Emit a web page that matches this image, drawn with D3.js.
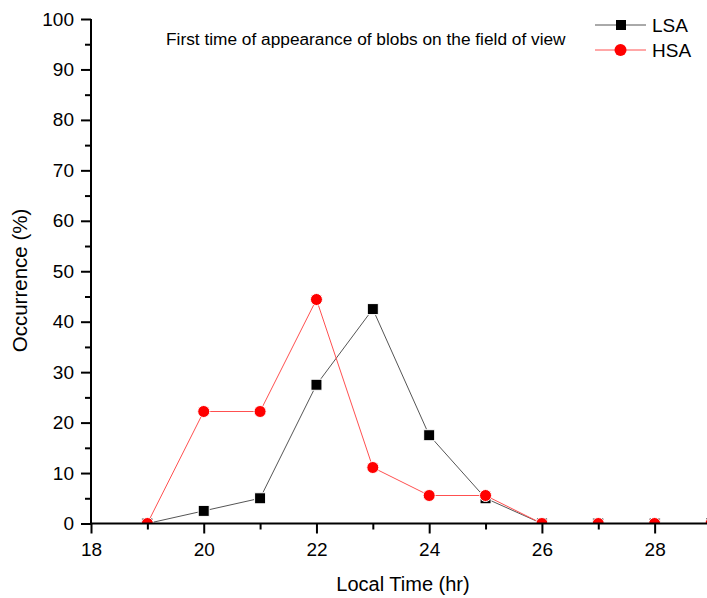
<!DOCTYPE html>
<html><head><meta charset="utf-8">
<script src="https://cdn.jsdelivr.net/npm/d3@7"></script>
<style>body{margin:0;background:#fff}svg{display:block;font-family:"Liberation Sans",Arial,sans-serif}</style>
</head><body>
<script>
const hours = [19, 20, 21, 22, 23, 24, 25, 26, 27, 28, 29];
const lsa = [0, 2.5, 5, 27.5, 42.5, 17.5, 5, 0, 0, 0, 0];
const hsa = [0, 22.2, 22.2, 44.4, 11.1, 5.55, 5.55, 0, 0, 0, 0];
const xTicks = [18, 20, 22, 24, 26, 28];
const xMinor = [19, 21, 23, 25, 27, 29];
const yTicks = [0, 10, 20, 30, 40, 50, 60, 70, 80, 90, 100];
const yMinor = [5, 15, 25, 35, 45, 55, 65, 75, 85, 95];
const seriesNames = ["LSA", "HSA"];
const titleText = "First time of appearance of blobs on the field of view";

const W = 707, H = 598;
const svg = d3.select("body").append("svg").attr("width", W).attr("height", H);
const x = d3.scaleLinear().domain([18, 29]).range([91, 711]);
const y = d3.scaleLinear().domain([0, 100]).range([523.5, 19]);

svg.append("defs").append("clipPath").attr("id", "clip")
  .append("rect").attr("x", 91).attr("y", 0).attr("width", 700).attr("height", 523.5);

const plot = svg.append("g").attr("clip-path", "url(#clip)");
const line = d3.line().x((d, i) => x(hours[i])).y(d => y(d));

plot.append("path").datum(lsa).attr("d", line).attr("fill", "none").attr("stroke", "#555").attr("stroke-width", 1);
plot.selectAll("rect.l").data(lsa).enter().append("rect")
  .attr("x", (d, i) => x(hours[i]) - 5.5).attr("y", d => y(d) - 5.5)
  .attr("width", 11).attr("height", 11).attr("fill", "#000").attr("stroke", "#fff").attr("stroke-width", 1);

plot.append("path").datum(hsa).attr("d", line).attr("fill", "none").attr("stroke", "#ff5050").attr("stroke-width", 1);
plot.selectAll("circle.h").data(hsa).enter().append("circle")
  .attr("cx", (d, i) => x(hours[i])).attr("cy", d => y(d)).attr("r", 6)
  .attr("fill", "#ff0000").attr("stroke", "#fff").attr("stroke-width", 1);

// axes
const xAxis = svg.append("g").attr("transform", "translate(0,523.5)")
  .call(d3.axisBottom(x).tickValues(xTicks).tickFormat(d3.format("d")).tickSize(10).tickPadding(9));
svg.append("g").attr("transform", "translate(0,523.5)")
  .call(d3.axisBottom(x).tickValues(xMinor).tickFormat("").tickSize(6))
  .select(".domain").remove();
const yAxis = svg.append("g").attr("transform", "translate(91,0)")
  .call(d3.axisLeft(y).tickValues(yTicks).tickFormat(d3.format("d")).tickSize(10).tickPadding(7));
svg.append("g").attr("transform", "translate(91,0)")
  .call(d3.axisLeft(y).tickValues(yMinor).tickFormat("").tickSize(6))
  .select(".domain").remove();
svg.selectAll(".domain").attr("stroke-width", 2);
xAxis.select(".domain").attr("d", "M91,0H711");
yAxis.select(".domain").attr("d", "M0,523.5V19");
svg.selectAll(".tick line").attr("stroke-width", 2);
svg.selectAll(".tick text").attr("font-size", 19).attr("fill", "#000").attr("font-family", "Liberation Sans, Arial, sans-serif");

// titles
svg.append("text").attr("x", 166).attr("y", 45).attr("font-size", 17.3).text(titleText);
svg.append("text").attr("x", 403).attr("y", 591).attr("text-anchor", "middle").attr("font-size", 20).text("Local Time (hr)");
svg.append("text").attr("transform", "translate(27,280.5) rotate(-90)").attr("text-anchor", "middle").attr("font-size", 20.5).text("Occurrence (%)");

// legend
const leg = svg.append("g");
const lg = [
  {name: seriesNames[0], y: 25, line: "#555", fill: "#000", shape: "sq"},
  {name: seriesNames[1], y: 50, line: "#ff5050", fill: "#ff0000", shape: "ci"}
];
lg.forEach(s => {
  leg.append("line").attr("x1", 595).attr("x2", 646).attr("y1", s.y).attr("y2", s.y).attr("stroke", s.line).attr("stroke-width", 1);
  if (s.shape === "sq") leg.append("rect").attr("x", 616).attr("y", s.y - 5).attr("width", 10).attr("height", 10).attr("fill", s.fill);
  else leg.append("circle").attr("cx", 620.5).attr("cy", s.y).attr("r", 6).attr("fill", s.fill);
  leg.append("text").attr("x", 652).attr("y", s.y + 7).attr("font-size", 19).text(s.name);
});
</script>
</body></html>
